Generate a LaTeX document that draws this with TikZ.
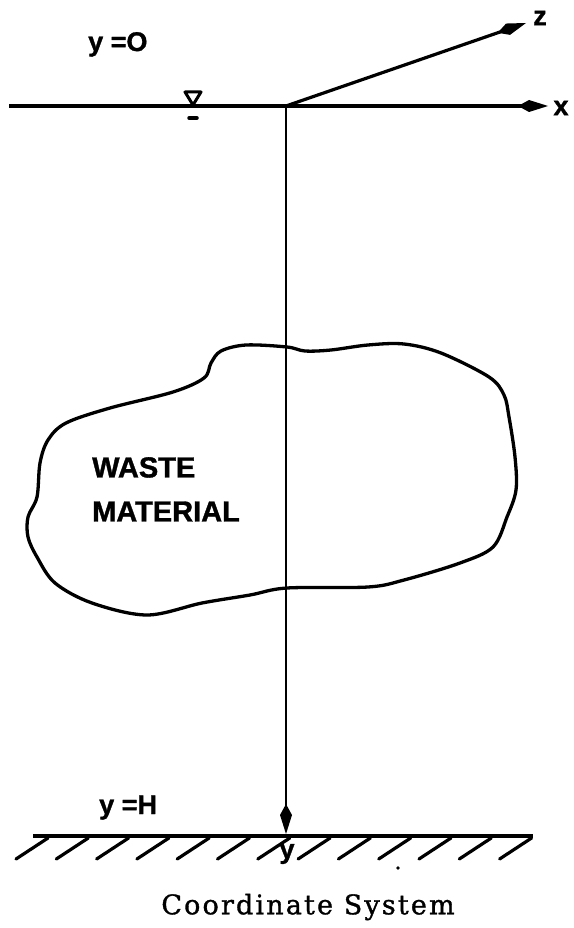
\documentclass[tikz,border=0pt]{standalone}
\usepackage{fontspec}
\setmainfont{Liberation Serif}
\newfontfamily\lblfont[BoldFeatures={FakeBold=1.2}]{Liberation Sans}
\newfontfamily\capfont[LetterSpace=8,FakeBold=1.2]{DejaVu Serif}
\usetikzlibrary{arrows.meta}
\tikzset{
  lbl/.style={font=\lblfont\bfseries\fontsize{27}{30}\selectfont, inner sep=0pt},
  wastelbl/.style={font=\lblfont\bfseries\fontsize{29}{44}\selectfont, inner sep=0pt, align=left},
  axarrow/.style={-{Kite[length=30pt,width=12pt,inset=11pt]}},
  hatch/.style={line width=3.2pt, line cap=round},
  blob/.style={line width=3.3pt, line join=round}
}
\begin{document}
\begin{tikzpicture}[x=1pt,y=-1pt]
\useasboundingbox (0,0) rectangle (573,928);
% coordinates
\coordinate (O) at (286,106);
\coordinate (xstart) at (9,106);
\coordinate (xtip) at (548,106);
\coordinate (ztip) at (526,23);
\coordinate (ytip) at (286,834);
\coordinate (gl) at (33,836);
\coordinate (gr) at (533,836);
% axes
\draw[line width=3.2pt] (xstart) -- (O);
\draw[line width=3.2pt, axarrow] (O) -- (xtip);
\draw[line width=3.2pt, axarrow] (O) -- (ztip);
\draw[line width=2.4pt, axarrow] (O) -- (ytip);
% labels
\node[lbl] (xl) at (561,108) {x};
\node[lbl] (zl) at (540,18) {z};
\node[lbl, anchor=base west] (y0) at (88,51) {y =O};
\node[lbl, anchor=base west] (yH) at (99,814) {y =H};
\node[lbl] (yl) at (287,854) {y};
% water level symbol
\draw[line width=3pt, line join=round] (185,92) -- (201,92) -- (193,105) -- cycle;
\draw[line width=3.5pt, line cap=round] (189,118) -- (197,118);
% ground
\draw[line width=3.2pt] (gl) -- (gr);
\foreach \i in {0,...,12} {
  \pgfmathsetmacro{\hx}{48+40.3*\i}
  \draw[hatch] (\hx,838) -- ({\hx-32},859);
}
\fill (398,868) circle (1.8pt);
% waste blob
\draw[blob] plot[smooth cycle, tension=0.55] coordinates {
 (287,347) (246,345) (221,351) (211,363) (204,378) (173,392) (110,408) (66,423)
 (48,440) (40,463) (37,497) (28,517) (28,537) (37,557) (55,583) (92,603)
 (147,615) (202,603) (250,595) (287,588) (368,587) (404,580) (460,563)
 (493,547) (507,517) (516,490) (515,457) (509,417) (504,395) (489,377)
 (441,353) (404,344) (368,345) (331,350) (305,351)
};
\node[wastelbl, anchor=north west] (waste) at (92,457) {WASTE\\MATERIAL};
% caption
\node[font=\capfont\fontsize{27}{30}\selectfont, inner sep=0pt] (cap) at (308,907) {Coordinate System};
\end{tikzpicture}
\end{document}
